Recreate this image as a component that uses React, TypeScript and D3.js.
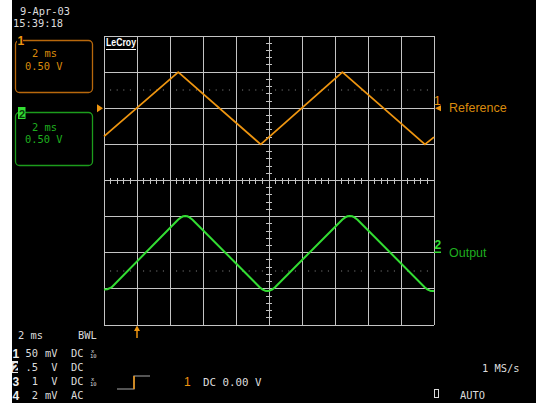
import React from 'react';
import * as d3 from 'd3';

// Screen geometry of the scope display
const W = 536;
const H = 403;

// Channel 1 "Reference": triangle wave vertices (time in ms, volts)
const refTime = [0, 4.5, 9.5, 14.45, 19.45, 20];
const refVolts = [-0.39, 0.5, -0.5, 0.5, -0.5, -0.4];

// Channel 2 "Output": filtered triangle, slightly rounded at the turning points
const outTime = [
  0, 0.2, 0.45, 4.5, 4.67, 4.8, 4.92, 5.05, 5.18, 5.35, 9.45, 9.62, 9.76, 9.9, 10.04, 10.18, 10.35,
  14.45, 14.62, 14.76, 14.9, 15.04, 15.18, 15.35, 19.45, 19.62, 19.76, 19.9, 20,
];
const outVolts = [
  -0.51, -0.505, -0.48, 0.46, 0.49, 0.505, 0.51, 0.505, 0.49, 0.46, -0.48, -0.51, -0.525, -0.53, -0.525, -0.51, -0.48,
  0.46, 0.49, 0.505, 0.51, 0.505, 0.49, 0.46, -0.48, -0.51, -0.525, -0.53, -0.53,
];

// Horizontal: 10 divisions of 2 ms; vertical: 8 divisions of 0.5 V
const timeTicks = [0, 2, 4, 6, 8, 10, 12, 14, 16, 18, 20];
const voltTicks = [-2, -1.5, -1, -0.5, 0, 0.5, 1, 1.5, 2];
const ch1Offset = 1; // ground two divisions above centre
const ch2Offset = -1; // ground two divisions below centre
const ch1Cursor = 0.25;
const ch2Cursor = -0.25;

// Status read-outs
const dateLine = '9-Apr-03';
const timeLine = '15:39:18';
const channelRows = [
  { ch: '1', value: '50', unit: 'mV', coupling: 'DC', x10: true },
  { ch: '2', value: '.5', unit: 'V', coupling: 'DC', x10: false },
  { ch: '3', value: '1', unit: 'V', coupling: 'DC', x10: true },
  { ch: '4', value: '2', unit: 'mV', coupling: 'AC', x10: false },
];

const ORANGE = '#ee9510';
const ORANGE_TXT = '#d98a0c';
const ORANGE_BOX = '#b8680c';
const GREEN = '#33dd33';
const GREEN_TXT = '#1fae1f';
const GREEN_BOX = '#1c9c1c';
const GRID = '#c4c4c4';
const TXT = '#dcdcdc';
const MONO = '"DejaVu Sans Mono", monospace';
const SANS = '"Liberation Sans", Arial, sans-serif';

export default function App() {
  const x = d3.scaleLinear().domain([0, 20]).range([104, 434]);
  const yScreen = d3.scaleLinear().domain([-2, 2]).range([325, 36]);
  const y1 = (v: number) => yScreen(v + ch1Offset);
  const y2 = (v: number) => yScreen(v + ch2Offset);

  const refLine = d3
    .line<number>()
    .x((_, i) => x(refTime[i]))
    .y((v) => y1(v))(refVolts) as string;

  const outLine = d3
    .line<number>()
    .x((_, i) => x(outTime[i]))
    .y((v) => y2(v))(outVolts) as string;

  const minorT = d3.range(0, 50 + 1).map((k) => (k * 20) / 50);
  const minorV = d3.range(0, 40 + 1).map((k) => -2 + (k * 4) / 40);
  const yMid = yScreen(0);
  const xMid = x(10);

  const dots = (yy: number, key: string) =>
    minorT
      .filter((_, k) => k % 5 !== 0)
      .map((t, k) => <rect key={key + k} x={x(t) - 0.5} y={yy - 0.5} width={1} height={1} fill="#8a8a8a" />);

  const yRow = [353, 367, 381, 395];

  return (
    <svg width={W} height={H} style={{ position: 'absolute', left: 0, top: 0 }}>
      <rect x={0} y={0} width={W} height={H} fill="#ffffff" />
      <rect x={12} y={0} width={W - 12} height={H} fill="#000000" />

      {/* date / time */}
      <g fontFamily={MONO} fontSize={10.4} fill={TXT}>
        <text x={20} y={15}>{dateLine}</text>
        <text x={13} y={27}>{timeLine}</text>
      </g>

      {/* channel descriptor boxes */}
      <rect x={15.5} y={40.5} width={77} height={52} rx={4} fill="none" stroke={ORANGE_BOX} strokeWidth={1.3} />
      <rect x={17} y={34} width={6} height={11} fill="#000" />
      <text x={17.5} y={44.5} fontFamily={SANS} fontSize={12} fontWeight="bold" fill={ORANGE}>1</text>
      <g fontFamily={MONO} fontSize={10.4} fill={ORANGE_TXT}>
        <text x={32} y={57}>2 ms</text>
        <text x={25} y={70}>0.50 V</text>
      </g>

      <rect x={15.5} y={112.5} width={77} height={53} rx={4} fill="none" stroke={GREEN_BOX} strokeWidth={1.3} />
      <rect x={18} y={107} width={7.5} height={12} fill={GREEN} />
      <text x={19} y={117.5} fontFamily={SANS} fontSize={11} fontWeight="bold" fill="#0a3a0a">2</text>
      <g fontFamily={MONO} fontSize={10.4} fill={GREEN_TXT}>
        <text x={32} y={130.5}>2 ms</text>
        <text x={25} y={143}>0.50 V</text>
      </g>

      {/* graticule */}
      <g stroke={GRID} strokeWidth={1} shapeRendering="crispEdges">
        {timeTicks.map((t) => (
          <line key={'v' + t} x1={x(t)} x2={x(t)} y1={yScreen(-2)} y2={yScreen(2)} />
        ))}
        {voltTicks.map((v) => (
          <line key={'h' + v} x1={x(0)} x2={x(20)} y1={yScreen(v)} y2={yScreen(v)} />
        ))}
        {minorT.map((t, k) => (
          <line key={'mt' + k} x1={x(t)} x2={x(t)} y1={yMid - 3} y2={yMid + 3} />
        ))}
        {minorV.map((v, k) => (
          <line key={'mv' + k} x1={xMid - 3} x2={xMid + 3} y1={yScreen(v)} y2={yScreen(v)} />
        ))}
      </g>
      {dots(Math.round(y1(ch1Cursor)), 'd1')}
      {dots(Math.round(y2(ch2Cursor)), 'd2')}

      {/* logo */}
      <text x={106} y={46} fontFamily={SANS} fontSize={10} fontWeight="bold" fill="#ffffff" textLength={30} lengthAdjust="spacingAndGlyphs">LeCroy</text>
      <line x1={106} x2={136} y1={49.5} y2={49.5} stroke="#ffffff" strokeWidth={1} />

      {/* traces */}
      <path d={refLine} fill="none" stroke={ORANGE} strokeWidth={1.8} strokeLinejoin="round" />
      <path d={outLine} fill="none" stroke={GREEN} strokeWidth={2} strokeLinejoin="round" />

      {/* ground markers */}
      <path d={`M97,${y1(0) - 4}L103,${y1(0)}L97,${y1(0) + 4}Z`} fill={ORANGE} />
      <text x={434} y={105} fontFamily={SANS} fontSize={12} fill={ORANGE}>1</text>
      <path d={`M435,${y1(0)}L441,${y1(0) - 3}L441,${y1(0) + 3}Z`} fill={ORANGE} />
      <text x={449} y={y1(0) + 4} fontFamily={SANS} fontSize={12.5} fill={ORANGE_TXT}>Reference</text>

      <text x={434.5} y={249} fontFamily={SANS} fontSize={12} fontWeight="bold" fill={GREEN}>2</text>
      <line x1={434} x2={441} y1={y2(0) - 0.5} y2={y2(0) - 0.5} stroke={GREEN} strokeWidth={1.5} />
      <text x={449} y={y2(0) + 4} fontFamily={SANS} fontSize={12.5} fill={GREEN_TXT}>Output</text>

      {/* trigger position */}
      <line x1={x(2)} x2={x(2)} y1={328} y2={338} stroke={ORANGE} strokeWidth={1.5} />
      <path d={`M${x(2) - 3},${331}L${x(2)},${325.5}L${x(2) + 3},${331}Z`} fill={ORANGE} />

      {/* timebase and channel read-outs */}
      <g fontFamily={MONO} fontSize={10.4} fill={TXT}>
        <text x={18} y={339}>2 ms</text>
        <text x={78} y={339}>BWL</text>
        {channelRows.map((r, i) => (
          <g key={r.ch}>
            {r.ch === '2' ? (
              <>
                <rect x={12} y={yRow[i] - 6} width={6} height={12} fill="#e8e8e8" />
                <text x={12.5} y={yRow[i] + 4.5} fontFamily={SANS} fontSize={12} fontWeight="bold" fill="#000">{r.ch}</text>
              </>
            ) : (
              <text x={12.5} y={yRow[i] + 4.5} fontFamily={SANS} fontSize={12} fontWeight="bold" fill="#f0f0f0">{r.ch}</text>
            )}
            <text x={38} y={yRow[i] + 4} textAnchor="end">{r.value}</text>
            <text x={57.5} y={yRow[i] + 4} textAnchor="end">{r.unit}</text>
            <text x={71} y={yRow[i] + 4}>{r.coupling}</text>
            {r.x10 && (
              <g fontSize={5.5}>
                <text x={91} y={yRow[i] - 0.5}>x</text>
                <text x={90} y={yRow[i] + 5}>10</text>
              </g>
            )}
          </g>
        ))}
        <text x={482} y={372}>1 MS/s</text>
        <text x={460} y={399}>AUTO</text>
      </g>
      <rect x={434.5} y={389.5} width={4} height={8} fill="none" stroke={TXT} strokeWidth={1} />

      {/* trigger setting */}
      <path d="M117,389H134V376H150" fill="none" stroke="#a8a8a8" strokeWidth={1.2} />
      <line x1={134} x2={134} y1={389} y2={376} stroke={ORANGE} strokeWidth={1.5} />
      <text x={184} y={386} fontFamily={SANS} fontSize={12} fill={ORANGE}>1</text>
      <text x={203} y={386} fontFamily={MONO} fontSize={10.8} fill={TXT}>DC 0.00 V</text>
    </svg>
  );
}
